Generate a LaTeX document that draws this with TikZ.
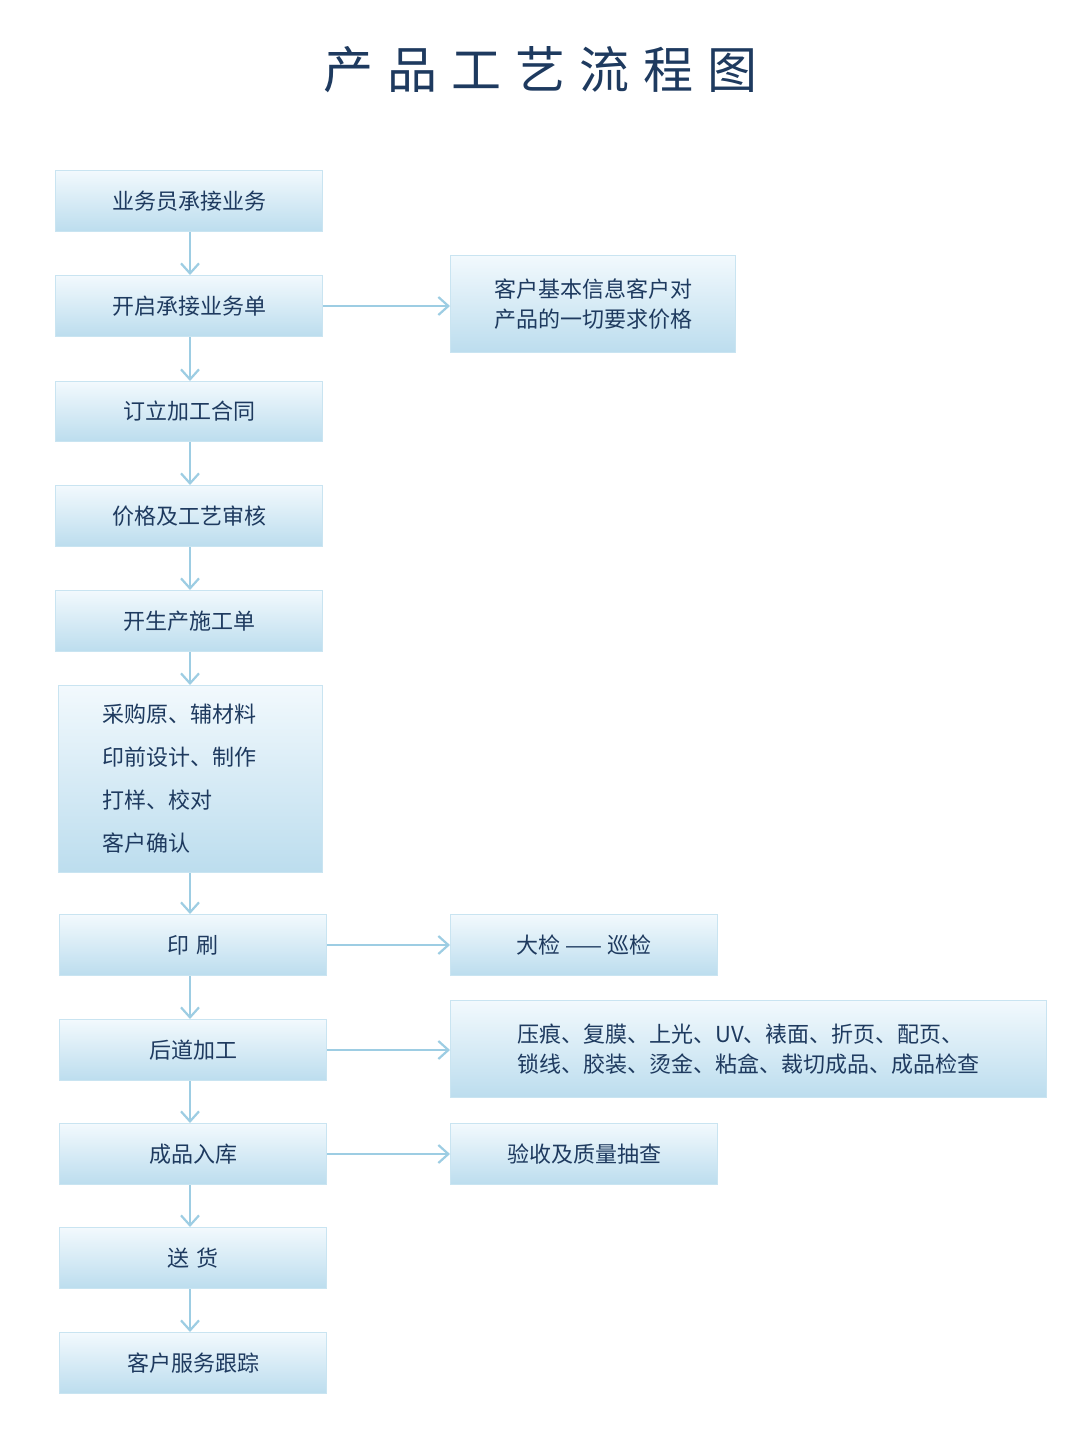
\documentclass[tikz,border=0pt]{standalone}
\usepackage{fontspec}
\setmainfont{Noto Sans CJK SC}
\usetikzlibrary{arrows.meta}
\definecolor{txt}{HTML}{1E3A5F}
\definecolor{boxb}{HTML}{BCDDEE}
\definecolor{boxt}{HTML}{F2F9FD}
\definecolor{arr}{HTML}{9DCDE3}
\tikzset{
 box/.style={draw=boxb!80!white, line width=1pt, top color=boxt, bottom color=boxb, text=txt, font=\fontsize{22}{30}\selectfont, inner sep=0pt, anchor=north west},
 flow/.style={draw=arr, line width=2.2pt, -{Straight Barb[length=10pt,width=18pt,line width=2.2pt]}},
}
\begin{document}
\begin{tikzpicture}[x=1pt,y=-1pt]
\useasboundingbox (0,0) rectangle (1080,1441);
\fill[white] (0,0) rectangle (1080,1441);
\node[text=txt, font=\fontsize{50}{56}\selectfont] (title) at (540,70) {产\hspace{14pt}品\hspace{14pt}工\hspace{14pt}艺\hspace{14pt}流\hspace{14pt}程\hspace{14pt}图};
\node[box, minimum width=267, minimum height=61] (b1) at (55,170) {业务员承接业务};
\node[box, minimum width=267, minimum height=61] (b2) at (55,275) {开启承接业务单};
\node[box, minimum width=267, minimum height=60] (b3) at (55,381) {订立加工合同};
\node[box, minimum width=267, minimum height=61] (b4) at (55,485) {价格及工艺审核};
\node[box, minimum width=267, minimum height=61] (b5) at (55,590) {开生产施工单};
\node[box, minimum width=264, minimum height=187, align=left, text width=220, font=\fontsize{22}{43}\selectfont] (b6) at (58,685) {\hspace*{22pt}采购原、辅材料\\\hspace*{22pt}印前设计、制作\\\hspace*{22pt}打样、校对\\\hspace*{22pt}客户确认};
\node[box, minimum width=267, minimum height=61] (b7) at (59,914) {印\hspace{8pt}刷};
\node[box, minimum width=267, minimum height=61] (b8) at (59,1019) {后道加工};
\node[box, minimum width=267, minimum height=61] (b9) at (59,1123) {成品入库};
\node[box, minimum width=267, minimum height=61] (b10) at (59,1227) {送\hspace{8pt}货};
\node[box, minimum width=267, minimum height=61] (b11) at (59,1332) {客户服务跟踪};
\node[box, minimum width=285, minimum height=97, align=left] (r2) at (450,255) {客户基本信息客户对\\产品的一切要求价格};
\node[box, minimum width=267, minimum height=61] (r7) at (450,914) {大检 —— 巡检};
\node[box, minimum width=596, minimum height=97, align=left] (r8) at (450,1000) {压痕、复膜、上光、UV、裱面、折页、配页、\\锁线、胶装、烫金、粘盒、裁切成品、成品检查};
\node[box, minimum width=267, minimum height=61] (r9) at (450,1123) {验收及质量抽查};
\foreach \a/\b in {b1/b2,b2/b3,b3/b4,b4/b5,b5/b6,b6/b7,b7/b8,b8/b9,b9/b10,b10/b11}
  \draw[flow] (\a.south -| 190,0) -- (\b.north -| 190,0);
\draw[flow] (b2.east) -- (r2.west |- b2.east);
\draw[flow] (b7.east) -- (r7.west);
\draw[flow] (b8.east) -- (r8.west |- b8.east);
\draw[flow] (b9.east) -- (r9.west);
\end{tikzpicture}
\end{document}
